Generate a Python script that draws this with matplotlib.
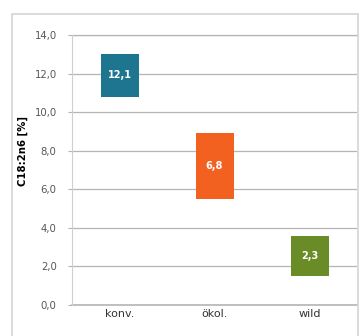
import matplotlib.pyplot as plt
from matplotlib.patches import Rectangle

categories = ['konv.', 'ökol.', 'wild']
lows = [10.8, 5.5, 1.5]
highs = [13.0, 8.9, 3.6]
means = [12.1, 6.8, 2.3]
colors = ['#1d7590', '#f26120', '#6a8c26']
yticks = [0, 2, 4, 6, 8, 10, 12, 14]


def show_range_bars():
    fig = plt.figure(figsize=(3.6, 3.36), dpi=100)
    # light frame around the chart
    fig.patches.append(Rectangle((12 / 360, -0.01), 346 / 360, 1 - 14 / 336 + 0.01,
                                 transform=fig.transFigure, fill=False,
                                 edgecolor='#d4d4d4', linewidth=1.2))
    ax = fig.add_axes([0.2, 0.092, 0.792, 0.804])

    x = range(len(categories))
    heights = [h - l for l, h in zip(lows, highs)]
    ax.bar(x, heights, bottom=lows, width=0.4, color=colors, zorder=3)
    for i, (l, h, m) in enumerate(zip(lows, highs, means)):
        ax.text(i, (l + h) / 2, f'{m:.1f}'.replace('.', ','), ha='center', va='center',
                color='white', fontsize=7, fontweight='bold', zorder=4)

    ax.set_xlim(-0.5, 2.5)
    ax.set_ylim(0, 14)
    ax.set_yticks(yticks)
    ax.set_yticklabels([f'{v:.1f}'.replace('.', ',') for v in yticks], fontsize=7.3, color='#555555')
    ax.set_xticks(list(x))
    ax.set_xticklabels(categories, fontsize=8, color='#333333')
    ax.tick_params(axis='x', length=0, pad=3)
    ax.tick_params(axis='y', length=3, color='#b5b5b5', pad=8)
    ax.grid(axis='y', color='#b5b5b5', linewidth=0.9, zorder=0)
    ax.axhline(0, color='#b5b5b5', linewidth=1.2, clip_on=False, zorder=1)
    ax.axhline(14, color='#b5b5b5', linewidth=0.9, clip_on=False, zorder=1)
    for s in ['top', 'right', 'bottom']:
        ax.spines[s].set_visible(False)
    ax.spines['left'].set_color('#cfcfcf')
    ax.set_ylabel('C18:2n6 [%]', fontsize=7.3, fontweight='bold', labelpad=6)
    ax.yaxis.set_label_coords(-0.155, 0.57)

    fig.savefig('out.png', dpi=100)


show_range_bars()
